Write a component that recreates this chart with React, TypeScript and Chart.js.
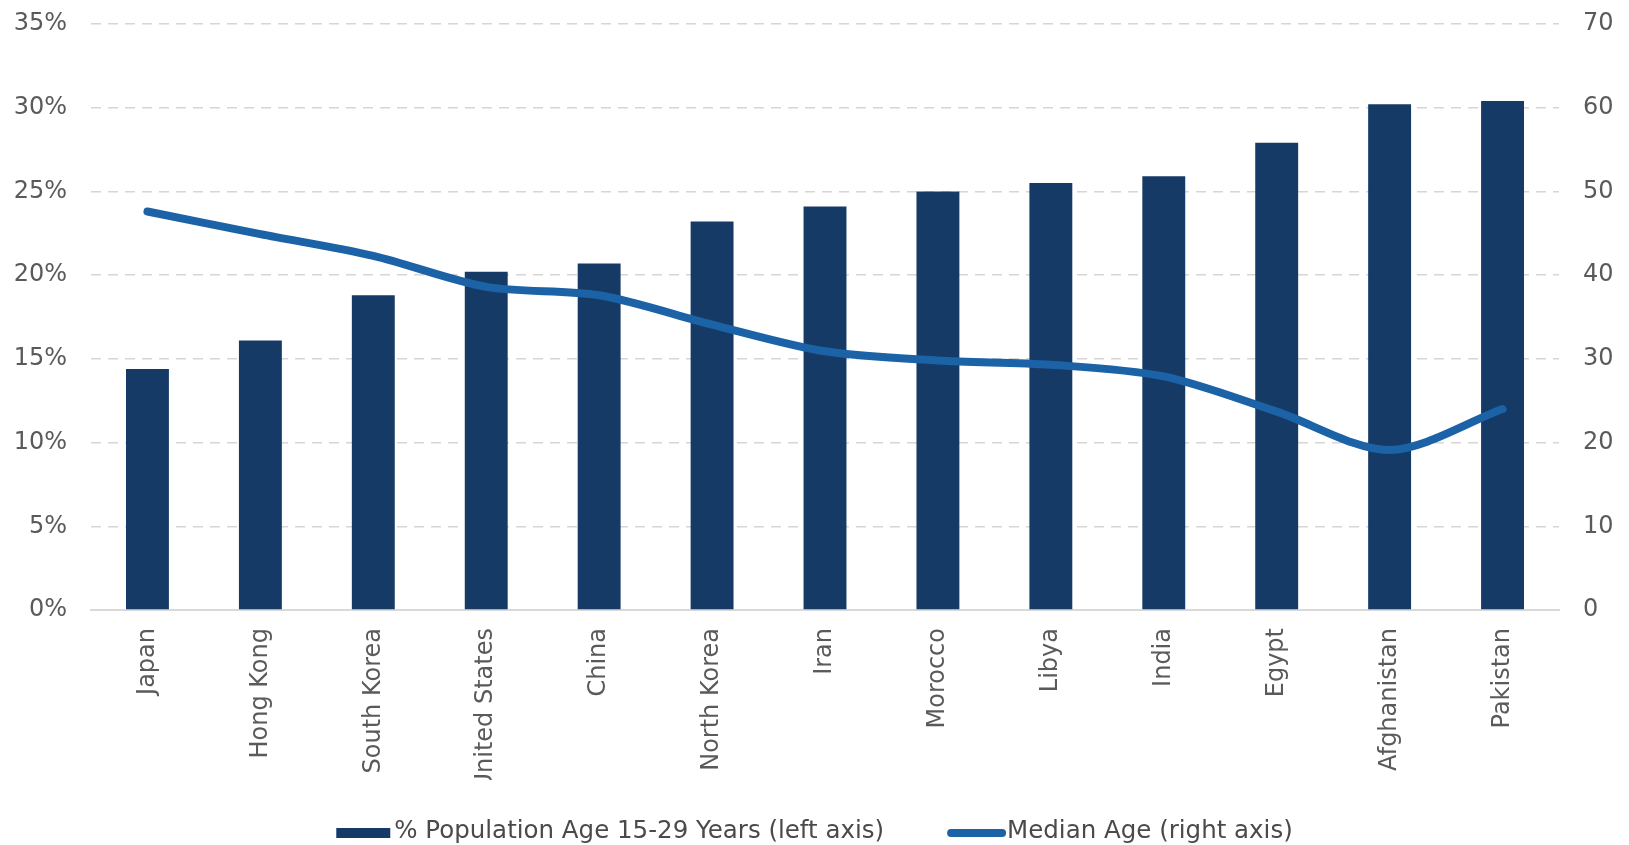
import React, { useEffect, useRef } from "react";
import { Chart, registerables } from "chart.js";

Chart.register(...registerables);

// Countries, ordered by youth share
const countries = [
  "Japan", "Hong Kong", "South Korea", "United States", "China", "North Korea",
  "Iran", "Morocco", "Libya", "India", "Egypt", "Afghanistan", "Pakistan",
];

// % of population aged 15-29 (left axis)
const youthShare = [14.4, 16.1, 18.8, 20.2, 20.7, 23.2, 24.1, 25.0, 25.5, 25.9, 27.9, 30.2, 30.4];

// Median age in years (right axis)
const medianAge = [47.6, 44.9, 42.3, 38.6, 37.6, 34.1, 30.9, 29.8, 29.3, 27.9, 23.7, 19.1, 24.0];

const leftTicks = [0, 5, 10, 15, 20, 25, 30, 35];
const rightTicks = [0, 10, 20, 30, 40, 50, 60, 70];

const barLabel = "% Population Age 15-29 Years (left axis)";
const lineLabel = "Median Age (right axis)";

const BAR_COLOR = "#163a66";
const LINE_COLOR = "#1b62a6";
const TICK_COLOR = "#5a5a5a";
const LEGEND_COLOR = "#4a4a4a";
const GRID_COLOR = "#d6d6d6";
const FONT_FAMILY = "'DejaVu Sans', Verdana, sans-serif";

// Legend row under the axis: a bar swatch and a line swatch, each followed by its label
const bottomLegend = {
  id: "bottomLegend",
  afterDraw(chart: any) {
    const ctx = chart.ctx as CanvasRenderingContext2D;
    const fontSize = 24.5;
    const barSwatch = 54;
    const lineSwatch = 59;
    const swatchGap = 4;
    const itemGap = 63;
    ctx.save();
    ctx.font = `${fontSize}px ${FONT_FAMILY}`;
    ctx.textBaseline = "middle";
    ctx.textAlign = "left";
    const w1 = ctx.measureText(barLabel).width;
    const w2 = ctx.measureText(lineLabel).width;
    const total = barSwatch + swatchGap + w1 + itemGap + lineSwatch + 1 + w2;
    let x = (chart.width - total) / 2;
    const cy = chart.height - 13;

    ctx.fillStyle = BAR_COLOR;
    ctx.fillRect(x, cy - 4, barSwatch, 10);
    x += barSwatch + swatchGap;
    ctx.fillStyle = LEGEND_COLOR;
    ctx.fillText(barLabel, x, cy);
    x += w1 + itemGap;

    ctx.strokeStyle = LINE_COLOR;
    ctx.lineWidth = 8;
    ctx.lineCap = "round";
    ctx.beginPath();
    ctx.moveTo(x + 4, cy + 1);
    ctx.lineTo(x + lineSwatch - 4, cy + 1);
    ctx.stroke();
    x += lineSwatch + 1;
    ctx.fillText(lineLabel, x, cy);
    ctx.restore();
  },
};

// Value axes sit flush with the plot area; their labels may overhang it
const flushVertical = (width: number) => (scale: any) => {
  scale.width = width;
  scale.paddingTop = 0;
  scale.paddingBottom = 0;
};

export default function App() {
  const canvasRef = useRef<HTMLCanvasElement | null>(null);

  useEffect(() => {
    const canvas = canvasRef.current;
    if (!canvas) return;

    const tickFont = { family: FONT_FAMILY, size: 24 };

    const chart = new Chart(canvas, {
      type: "bar",
      data: {
        labels: countries,
        datasets: [
          {
            type: "line",
            label: lineLabel,
            data: medianAge,
            yAxisID: "yRight",
            borderColor: LINE_COLOR,
            backgroundColor: LINE_COLOR,
            borderWidth: 8,
            borderCapStyle: "round",
            borderJoinStyle: "round",
            pointRadius: 0,
            tension: 0.3,
            order: 0,
          },
          {
            type: "bar",
            label: barLabel,
            data: youthShare,
            yAxisID: "yLeft",
            backgroundColor: BAR_COLOR,
            borderWidth: 0,
            categoryPercentage: 1,
            barPercentage: 0.38,
            order: 1,
          },
        ],
      },
      options: {
        animation: false,
        responsive: false,
        maintainAspectRatio: false,
        layout: { padding: { top: 24, left: 0, right: 0, bottom: 65 } },
        plugins: {
          tooltip: { enabled: false },
          legend: { display: false },
        },
        scales: {
          x: {
            grid: { display: false },
            border: { display: true, color: "#d9d9d9", width: 2 },
            ticks: {
              color: TICK_COLOR,
              font: tickFont,
              minRotation: 90,
              maxRotation: 90,
              padding: 10,
              autoSkip: false,
            },
            afterFit: (scale: any) => {
              scale.height = 170;
            },
          },
          yLeft: {
            position: "left",
            min: 0,
            max: 35,
            afterBuildTicks: (scale: any) => {
              scale.ticks = leftTicks.map((v) => ({ value: v }));
            },
            grid: {
              color: GRID_COLOR,
              lineWidth: 1.5,
              drawTicks: false,
            },
            border: { display: false, dash: [10, 7] },
            ticks: {
              color: TICK_COLOR,
              font: tickFont,
              padding: 24,
              callback: (v: any) => `${v}%`,
            },
            afterFit: flushVertical(91),
          },
          yRight: {
            position: "right",
            min: 0,
            max: 70,
            afterBuildTicks: (scale: any) => {
              scale.ticks = rightTicks.map((v) => ({ value: v }));
            },
            grid: { display: false, drawTicks: false },
            border: { display: false },
            ticks: {
              color: TICK_COLOR,
              font: tickFont,
              padding: 24,
            },
            afterFit: flushVertical(70),
          },
        },
      },
      plugins: [bottomLegend],
    });

    return () => chart.destroy();
  }, []);

  return (
    <div style={{ position: "fixed", left: 0, top: 0, width: 1629, height: 845, background: "#ffffff" }}>
      <canvas ref={canvasRef} width={1629} height={845} style={{ display: "block" }} />
    </div>
  );
}
